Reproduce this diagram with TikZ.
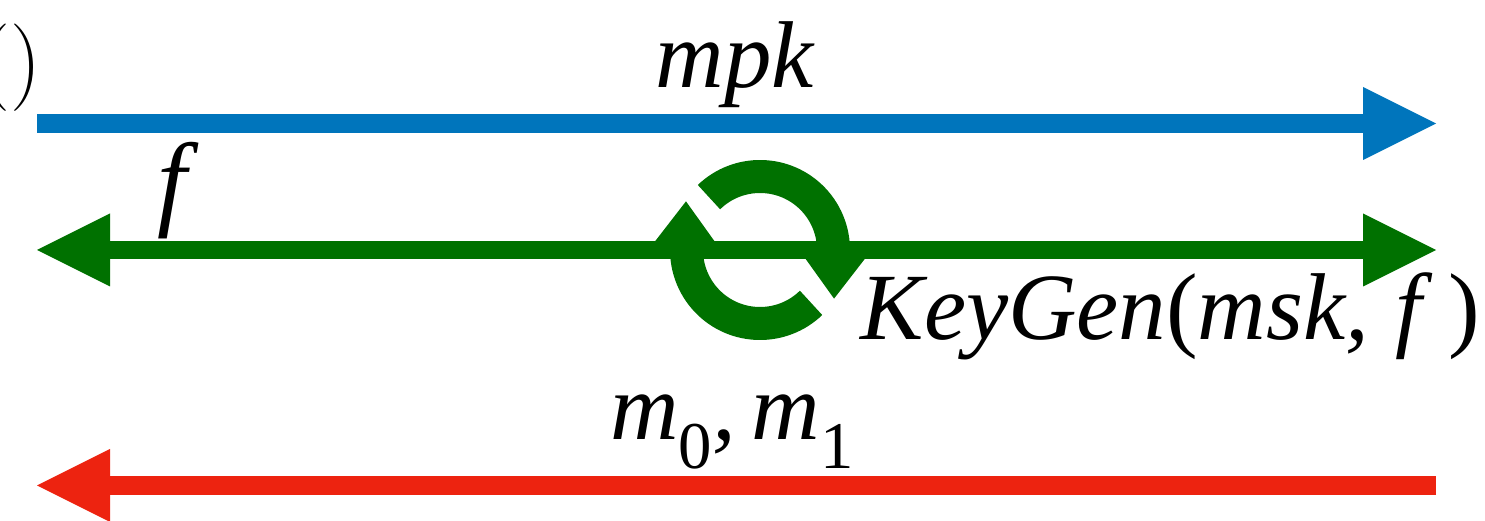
\documentclass[tikz,border=0pt]{standalone}
\usepackage{fontspec}
\setmainfont{Liberation Serif}
\usetikzlibrary{arrows.meta}

\definecolor{pkblue}{RGB}{0,117,188}
\definecolor{fgreen}{RGB}{0,113,0}
\definecolor{msgred}{RGB}{237,35,16}

\newcommand{\lowsub}[1]{\raisebox{-0.3em}{\fontsize{19}{20}\selectfont\upshape #1}}

\begin{document}
\begin{tikzpicture}[
    >={Triangle[length=7.3mm, width=7.3mm, line width=0pt]},
    flow/.style={line width=1.85mm},
    lbl/.style={font=\fontsize{27}{32}\selectfont\itshape, inner sep=0pt}]

  \useasboundingbox (0,0) rectangle (14.85,5.2);

  % end points of the three flows
  \coordinate (pk-l)  at (0.37,3.965);
  \coordinate (pk-r)  at (14.36,3.965);
  \coordinate (fn-l)  at (0.37,2.70);
  \coordinate (fn-r)  at (14.36,2.70);
  \coordinate (msg-l) at (0.37,0.345);
  \coordinate (msg-r) at (14.36,0.345);
  \coordinate (ring)  at (7.60,2.70);

  % left over of the setup call
  \node[inner sep=0pt, anchor=east, font=\fontsize{25}{30}\selectfont] (setup) at (0.42,4.52) {$()$};

  % public key goes right
  \draw[pkblue, flow, ->] (pk-l) -- (pk-r);
  \node[lbl, anchor=base] (mpk) at (7.35,4.32) {mpk};

  % function both ways
  \draw[fgreen, flow, <->] (fn-l) -- (fn-r);
  \node[lbl, anchor=base, font=\fontsize{30}{34}\selectfont\itshape] (fn) at (1.72,3.03) {f};

  % round trip for the key
  \foreach \r in {0,180}{
    \begin{scope}[shift={(ring)}, rotate=\r]
      \draw[fgreen, line width=3.3mm] (134:0.735) arc[start angle=134, end angle=-5, radius=0.735];
      \fill[fgreen, rotate=-5] (0.42,0) -- (1.05,0) -- (0.78,-0.42) -- cycle;
    \end{scope}
  }
  \node[lbl, anchor=base west] (keygen) at (8.60,1.80) {KeyGen\upshape(\itshape msk,\;f\/\,\upshape)};

  % messages go left
  \draw[msgred, flow, ->] (msg-r) -- (msg-l);
  \node[lbl, anchor=base] (msgs) at (7.32,0.80) {m\lowsub{0},\,m\lowsub{1}};

\end{tikzpicture}
\end{document}
